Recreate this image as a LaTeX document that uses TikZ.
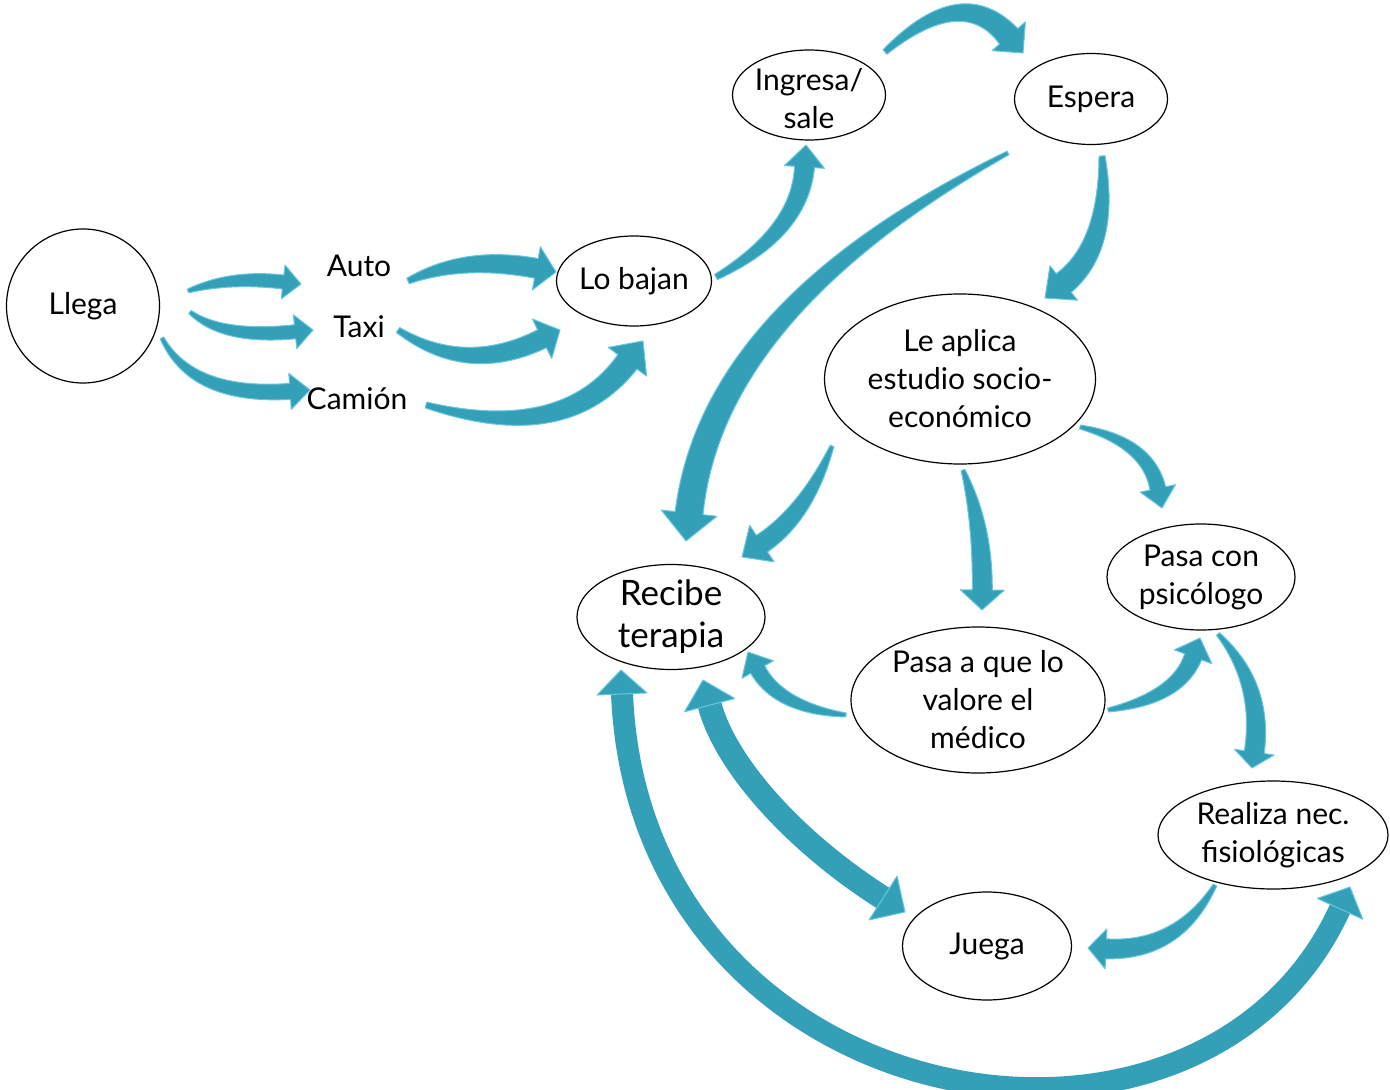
\documentclass[tikz,border=0pt]{standalone}
\usepackage{fontspec}
\setmainfont{Lato}
\usetikzlibrary{shapes.geometric,calc}
\definecolor{arr}{RGB}{52,160,184}
\definecolor{arrl}{RGB}{105,198,224}
\tikzset{
  arrstyle/.style={fill=arr, draw=arrl, line width=0.5pt, line join=round},
  arrbody/.style={draw=arr},
  ell/.style={ellipse, draw=black, line width=0.6pt, fill=white, inner sep=0pt},
  txt/.style={inner sep=0pt, align=center, font=\fontsize{15}{19}\selectfont},
  bigtxt/.style={inner sep=0pt, align=center, font=\fontsize{17.5}{21}\selectfont}
}
% tapered curved block arrow (quadratic body): tail, control, tip, tail half-width, body half-width, head half-width, head length
\newcommand\barrow[7]{%
  \coordinate (hb) at ($(#3)!#7!(#2)$);
  \coordinate (dd) at ($(#2)+(hb)-(#1)$);
  \coordinate (sl) at ($(#1)!#4!90:(#2)$);  \coordinate (sr) at ($(#1)!#4!-90:(#2)$);
  \coordinate (ql) at ($(#2)!#5!90:(dd)$);  \coordinate (qr) at ($(#2)!#5!-90:(dd)$);
  \coordinate (hl) at ($(hb)!#5!90:(#3)$);  \coordinate (hr) at ($(hb)!#5!-90:(#3)$);
  \filldraw[arrstyle] (sl) .. controls ($(sl)!0.6667!(ql)$) and ($(hl)!0.6667!(ql)$) .. (hl)
    -- ($(hb)!#6!90:(#3)$) -- (#3) -- ($(hb)!#6!-90:(#3)$) -- (hr)
    .. controls ($(hr)!0.6667!(qr)$) and ($(sr)!0.6667!(qr)$) .. (sr) -- cycle;
}
% double-headed block arrow: tip1, c1, c2, tip2, body width, head half-width, head length
\newcommand\dbarrow[7]{%
  \coordinate (hs) at ($(#1)!#7!(#2)$);
  \coordinate (he) at ($(#4)!#7!(#3)$);
  \draw[arrbody, line width=#5] (hs) .. controls (#2) and (#3) .. (he);
  \filldraw[arrstyle] (#1) -- ($(hs)!#6!90:(#1)$) -- ($(hs)!#6!-90:(#1)$) -- cycle;
  \filldraw[arrstyle] (#4) -- ($(he)!#6!90:(#4)$) -- ($(he)!#6!-90:(#4)$) -- cycle;
}
\begin{document}
\begin{tikzpicture}[x=0.5pt, y=-0.5pt]
\useasboundingbox (0,0) rectangle (1390,1090);

% ellipses
\node[ell, minimum width=76.5pt, minimum height=77pt] (llega) at (83,306) {};
\node[ell, minimum width=77.5pt, minimum height=45pt] (lobajan) at (634,281) {};
\node[ell, minimum width=76.5pt, minimum height=45pt] (ingresa) at (809,95) {};
\node[ell, minimum width=76.5pt, minimum height=45.5pt] (espera) at (1091,99) {};
\node[ell, minimum width=135.5pt, minimum height=85pt] (aplica) at (960,379) {};
\node[ell, minimum width=94pt, minimum height=52.5pt] (recibe) at (671,617) {};
\node[ell, minimum width=127pt, minimum height=73pt] (valore) at (978,700) {};
\node[ell, minimum width=94pt, minimum height=53pt] (psico) at (1201,577) {};
\node[ell, minimum width=115pt, minimum height=54pt] (realiza) at (1273,835) {};
\node[ell, minimum width=84.5pt, minimum height=54pt] (juega) at (987,946) {};

% texts
\node[txt] (llegat) at (llega) {Llega};
\node[txt] (auto) at (359,266) {Auto};
\node[txt] (taxi) at (359,327) {Taxi};
\node[txt] (camion) at (357,399) {Camión};
\node[txt] (lobajant) at (lobajan) {Lo bajan};
\node[txt] (ingresat) at (809,99) {Ingresa/\\sale};
\node[txt] (esperat) at (espera) {Espera};
\node[txt] (aplicat) at (aplica) {Le aplica\\estudio socio-\\económico};
\node[bigtxt] (recibet) at (recibe) {Recibe\\terapia};
\node[txt] (valoret) at (valore) {Pasa a que lo\\valore el\\médico};
\node[txt] (psicot) at (psico) {Pasa con\\psicólogo};
\node[txt] (realizat) at (realiza) {Realiza nec.\\fisiológicas};
\node[txt] (juegat) at (juega) {Juega};

% arrow anchor coordinates (tail, quadratic control, tip)
\coordinate (a1s) at (188,291);  \coordinate (a1c) at (230,276);  \coordinate (a1e) at (301,284);
\coordinate (a2s) at (190,312);  \coordinate (a2c) at (222,339);  \coordinate (a2e) at (313,330);
\coordinate (a3s) at (162,338);  \coordinate (a3c) at (192,398);  \coordinate (a3e) at (310,390);
\coordinate (a4s) at (408,281);  \coordinate (a4c) at (464,255);  \coordinate (a4e) at (556,272);
\coordinate (a5s) at (398,330);  \coordinate (a5c) at (466,376);  \coordinate (a5e) at (560,330);
\coordinate (a6s) at (426,405);  \coordinate (a6c) at (565,445);  \coordinate (a6e) at (643,341);
\coordinate (a7s) at (716,277);  \coordinate (a7c) at (800,232);  \coordinate (a7e) at (806,145);
\coordinate (a8s) at (885,52);   \coordinate (a8c) at (962,-18);  \coordinate (a8e) at (1023,53);
\coordinate (a9s) at (1102,156); \coordinate (a9c) at (1110,246); \coordinate (a9e) at (1045,298);
\coordinate (a10s) at (1008,153);\coordinate (a10c) at (712,308); \coordinate (a10e) at (686,541);
\coordinate (a11s) at (832,446); \coordinate (a11c) at (806,514); \coordinate (a11e) at (742,557);
\coordinate (a12s) at (963,470); \coordinate (a12c) at (983,525); \coordinate (a12e) at (982,610);
\coordinate (a13s) at (1080,427);\coordinate (a13c) at (1148,442);\coordinate (a13e) at (1162,508);
\coordinate (a14s) at (846,715); \coordinate (a14c) at (779,708); \coordinate (a14e) at (748,652);
\coordinate (a15s) at (1108,710);\coordinate (a15c) at (1178,698);\coordinate (a15e) at (1200,638);
\coordinate (a16s) at (1218,634);\coordinate (a16c) at (1264,684);\coordinate (a16e) at (1252,768);
\coordinate (a17s) at (1215,885);\coordinate (a17c) at (1178,952);\coordinate (a17e) at (1088,948);
\coordinate (a18s) at (703,680); \coordinate (a18c) at (725,763); \coordinate (a18d) at (792,840);
\coordinate (a18e) at (905,912);
\coordinate (a19s) at (621,670); \coordinate (a19c) at (640,1120);\coordinate (a19d) at (1200,1215);
\coordinate (a19e) at (1350,887);

% arrows
\barrow{a1s}{a1c}{a1e}{1pt}{3.5pt}{8.5pt}{9pt}
\barrow{a2s}{a2c}{a2e}{1pt}{3.5pt}{8.5pt}{9pt}
\barrow{a3s}{a3c}{a3e}{1pt}{4pt}{9pt}{10pt}
\barrow{a4s}{a4c}{a4e}{1.5pt}{5pt}{11pt}{10pt}
\barrow{a5s}{a5c}{a5e}{1.5pt}{5pt}{11pt}{10pt}
\barrow{a6s}{a6c}{a6e}{1.5pt}{6pt}{12pt}{13pt}
\barrow{a7s}{a7c}{a7e}{1.5pt}{5pt}{10pt}{11pt}
\barrow{a8s}{a8c}{a8e}{1.5pt}{6pt}{11pt}{11pt}
\barrow{a9s}{a9c}{a9e}{1.5pt}{6pt}{11pt}{12pt}
\barrow{a10s}{a10c}{a10e}{1pt}{7pt}{14pt}{14pt}
\barrow{a11s}{a11c}{a11e}{1pt}{5pt}{11pt}{12pt}
\barrow{a12s}{a12c}{a12e}{1pt}{5pt}{11pt}{10pt}
\barrow{a13s}{a13c}{a13e}{1pt}{4pt}{9pt}{10pt}
\barrow{a14s}{a14c}{a14e}{1pt}{4pt}{9pt}{10pt}
\barrow{a15s}{a15c}{a15e}{1pt}{4.5pt}{10pt}{10pt}
\barrow{a16s}{a16c}{a16e}{1pt}{5pt}{10pt}{8pt}
\barrow{a17s}{a17c}{a17e}{1pt}{5pt}{10pt}{9pt}
\dbarrow{a18s}{a18c}{a18d}{a18e}{12pt}{13pt}{13pt}
\dbarrow{a19s}{a19c}{a19d}{a19e}{11pt}{12.5pt}{12pt}
\end{tikzpicture}
\end{document}
